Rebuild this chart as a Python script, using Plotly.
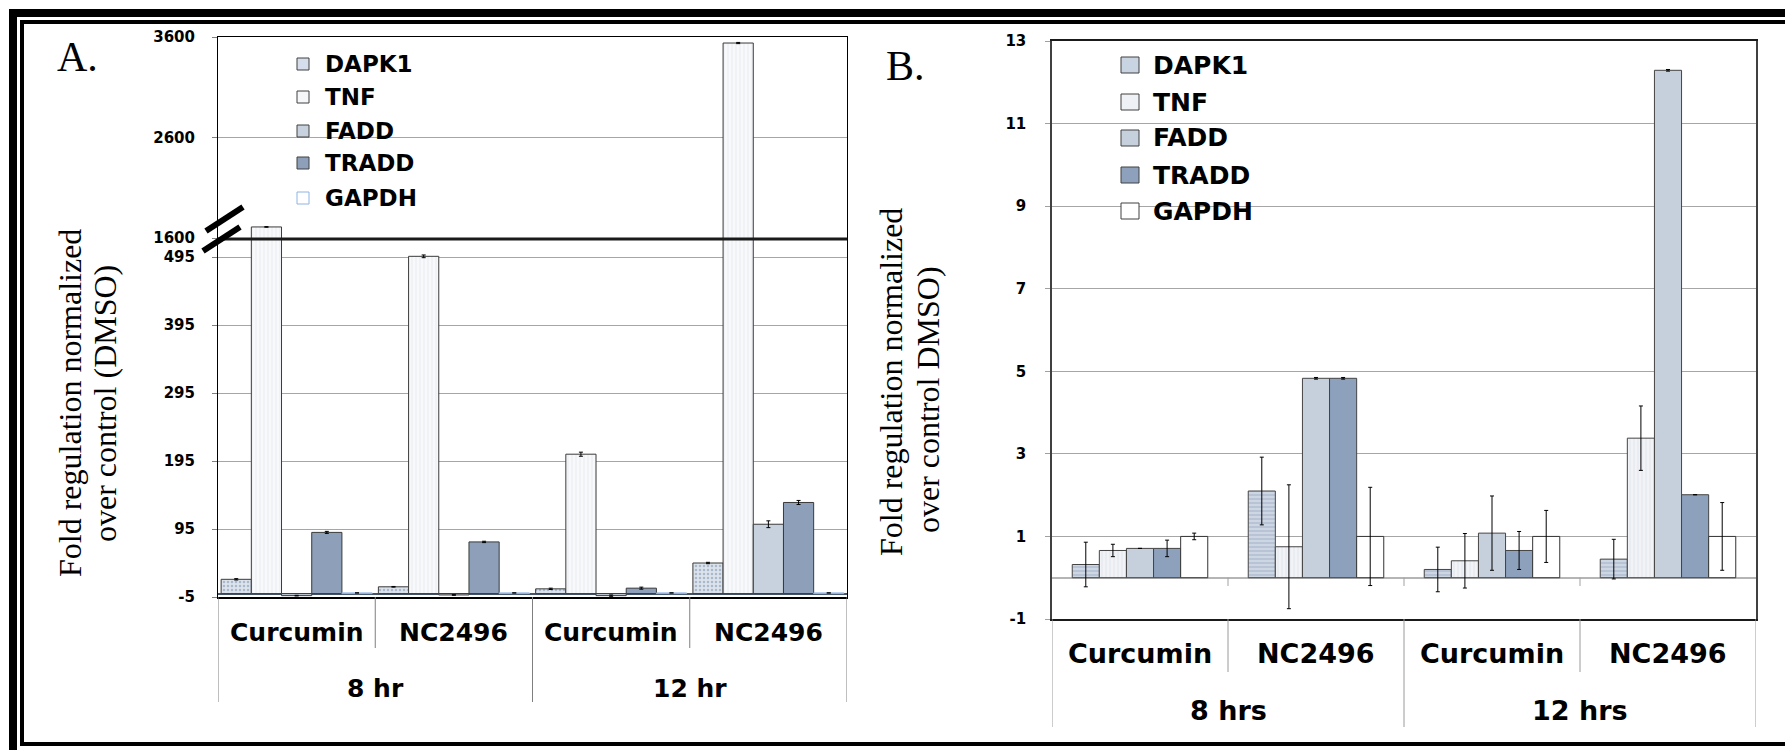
import plotly.graph_objects as go

W, H = 1785, 750


def px(x):
    return x / W


def py(y):
    return 1 - y / H


# ---------------- data ----------------
genes = ["DAPK1", "TNF", "FADD", "TRADD", "GAPDH"]
treatments = ["Curcumin", "NC2496", "Curcumin", "NC2496"]
times_a = ["8 hr", "12 hr"]
times_b = ["8 hrs", "12 hrs"]
xpos = [0, 1, 2, 3]

# Panel A (broken axis)
a_dapk1 = [21, 10, 7, 45]
a_tnf = [1710, 496, 205, 3540]
a_fadd = [-3, -2, -3, 102]
a_tradd = [90, 76, 8, 134]
a_gapdh = [1, 1, 1, 1]
a_dapk1_err = [1, 0.5, 1, 1]
a_tnf_err = [3, 2, 3, 6]
a_fadd_err = [0.5, 0.5, 1, 5]
a_tradd_err = [1.5, 1, 1.5, 3]
a_gapdh_err = [0, 0, 0, 0]
a_low_ticks = [-5, 95, 195, 295, 395, 495]
a_low_ticktext = ["-5", "95", "195", "295", "395", "495"]
a_up_ticks = [1600, 2600, 3600]

# Panel B
b_dapk1 = [0.32, 2.1, 0.2, 0.45]
b_tnf = [0.66, 0.75, 0.41, 3.38]
b_fadd = [0.71, 4.83, 1.08, 12.29]
b_tradd = [0.71, 4.83, 0.66, 2.01]
b_gapdh = [1, 1, 1, 1]
b_dapk1_err = [0.54, 0.82, 0.54, 0.48]
b_tnf_err = [0.15, 1.5, 0.66, 0.78]
b_fadd_err = [0, 0.02, 0.9, 0.02]
b_tradd_err = [0.2, 0.02, 0.46, 0]
b_gapdh_err = [0.08, 1.19, 0.63, 0.82]
b_ticks = [-1, 1, 3, 5, 7, 9, 11, 13]
b_ticktext = ["-1", "1", "3", "5", "7", "9", "11", "13"]

a_vals = [a_dapk1, a_tnf, a_fadd, a_tradd, a_gapdh]
a_errs = [a_dapk1_err, a_tnf_err, a_fadd_err, a_tradd_err, a_gapdh_err]
b_vals = [b_dapk1, b_tnf, b_fadd, b_tradd, b_gapdh]
b_errs = [b_dapk1_err, b_tnf_err, b_fadd_err, b_tradd_err, b_gapdh_err]

# ---------------- styles ----------------
fill_a = ["#d5deea", "#f6f7f9", "#c8d2de", "#8d9fb9", "#ffffff"]
edge_a = ["#3a3a3a", "#3a3a3a", "#3a3a3a", "#3a3a3a", "#8eb4e3"]
pat_a = [
    dict(shape=".", fgcolor="#a9b8cc", bgcolor="#dce3ec", size=4, solidity=0.3),
    dict(shape="|", fgcolor="#e6e9ee", bgcolor="#f8f9fb", size=4, solidity=0.2),
    None, None, None,
]
fill_b = ["#c9d4e2", "#eef1f5", "#c6d0dc", "#8da1bd", "#ffffff"]
edge_b = ["#444444", "#444444", "#444444", "#444444", "#333333"]
pat_b = [
    dict(shape="-", fgcolor="#aab8cc", bgcolor="#cdd7e4", size=4, solidity=0.3),
    dict(shape="|", fgcolor="#e1e5eb", bgcolor="#f1f3f6", size=4, solidity=0.25),
    None, None, None,
]

fig = go.Figure()

# Panel A: bars in lower (x/y) and upper (x2/y2) parts
wa = 0.96 / 5
for i, g in enumerate(genes):
    mk = dict(color=fill_a[i], line=dict(color=edge_a[i], width=1))
    if pat_a[i]:
        mk["pattern"] = dict(fillmode="replace", **pat_a[i])
    for xa, ya in (("x", "y"), ("x2", "y2")):
        fig.add_trace(go.Bar(
            x=xpos, y=a_vals[i], name=g, xaxis=xa, yaxis=ya,
            width=wa, offset=-0.48 + i * wa, marker=mk, showlegend=False,
            error_y=dict(type="data", array=a_errs[i], color="black", thickness=1, width=2),
        ))

# Panel B
wb = 0.77 / 5
for i, g in enumerate(genes):
    mk = dict(color=fill_b[i], line=dict(color=edge_b[i], width=1))
    if pat_b[i]:
        mk["pattern"] = dict(fillmode="replace", **pat_b[i])
    fig.add_trace(go.Bar(
        x=xpos, y=b_vals[i], name=g, xaxis="x3", yaxis="y3",
        width=wb, offset=-0.385 + i * wb, marker=mk, showlegend=False,
        error_y=dict(type="data", array=b_errs[i], color="black", thickness=1, width=2),
    ))

tickfont = dict(family="DejaVu Sans", size=15, color="black", weight="bold")
grid = "#a6a6a6"

fig.update_layout(
    width=W, height=H, margin=dict(l=0, r=0, t=0, b=0, pad=0, autoexpand=False),
    paper_bgcolor="white", plot_bgcolor="white",
    barmode="overlay", showlegend=False,
    xaxis=dict(domain=[px(218), px(847)], range=[-0.5, 3.5], anchor="y",
               showticklabels=False, showgrid=False, zeroline=False, ticks="",
               showline=True, linecolor="black", linewidth=2, mirror=True),
    yaxis=dict(domain=[py(597), py(240)], range=[-5, 520], anchor="x",
               tickvals=a_low_ticks, ticktext=a_low_ticktext, tickfont=tickfont,
               ticks="outside", ticklen=5, tickcolor="#808080", ticklabelstandoff=14,
               showgrid=True, gridcolor=grid, gridwidth=1,
               zeroline=True, zerolinecolor="#44546a", zerolinewidth=2,
               showline=True, linecolor="black", linewidth=1, mirror=True),
    xaxis2=dict(domain=[px(218), px(847)], range=[-0.5, 3.5], anchor="y2",
                showticklabels=False, showgrid=False, zeroline=False, ticks="",
                showline=True, linecolor="black", linewidth=1, mirror=True),
    yaxis2=dict(domain=[py(238), py(37)], range=[1600, 3600], anchor="x2",
                tickvals=a_up_ticks, tickfont=tickfont,
                ticks="outside", ticklen=5, tickcolor="#808080", ticklabelstandoff=14,
                showgrid=True, gridcolor=grid, gridwidth=1, zeroline=False,
                showline=True, linecolor="black", linewidth=1, mirror=True),
    xaxis3=dict(domain=[px(1052), px(1756)], range=[-0.5, 3.5], anchor="y3",
                showticklabels=False, showgrid=False, zeroline=False, ticks="",
                showline=True, linecolor="#1a1a1a", linewidth=2, mirror=True),
    yaxis3=dict(domain=[py(619), py(41)], range=[-1, 13], anchor="x3",
                tickvals=b_ticks, ticktext=b_ticktext, tickfont=tickfont,
                ticks="outside", ticklen=5, tickcolor="#a0a0a0", ticklabelstandoff=16,
                showgrid=True, gridcolor=grid, gridwidth=1,
                zeroline=True, zerolinecolor="#b5b5b5", zerolinewidth=1.5,
                showline=True, linecolor="#404040", linewidth=1.5, mirror=True),
)

shapes = []


def pline(x0, y0, x1, y1, w, c="black"):
    shapes.append(dict(type="line", xref="paper", yref="paper",
                       x0=px(x0), y0=py(y0), x1=px(x1), y1=py(y1),
                       line=dict(color=c, width=w)))


# outer frame
pline(9, 13, 1785, 13, 8)
pline(20, 22, 1785, 22, 4)
pline(13, 9, 13, 750, 8)
pline(22, 20, 22, 746, 4)
pline(20, 744, 1785, 744, 4)

# panel A break
pline(218, 239, 847, 239, 3, "#1a1a1a")
pline(206, 231, 243, 207, 6)
pline(203, 251, 240, 227, 6)

# dividers under the category axes
for xb, yend in ((-0.5, 702), (0.5, 648), (1.5, 702), (2.5, 648), (3.5, 702)):
    shapes.append(dict(type="line", xref="x", yref="paper", x0=xb, x1=xb,
                       y0=py(597), y1=py(yend), line=dict(color="#7f7f7f", width=1)))
for xb, yend in ((-0.5, 727), (0.5, 672), (1.5, 727), (2.5, 672), (3.5, 727)):
    shapes.append(dict(type="line", xref="x3", yref="paper", x0=xb, x1=xb,
                       y0=py(619), y1=py(yend), line=dict(color="#9a9a9a", width=1)))
# small tick marks at zero line in panel B
for xb in (0.5, 1.5, 2.5):
    shapes.append(dict(type="line", xref="x3", yref="y3", x0=xb, x1=xb,
                       y0=0, y1=-0.2, line=dict(color="#a0a0a0", width=1)))

annotations = []

# legends (manual)
leg_a_y = [64, 97, 131, 163, 198]
for i, g in enumerate(genes):
    yc = leg_a_y[i]
    shapes.append(dict(type="rect", xref="paper", yref="paper",
                       x0=px(297), x1=px(309), y0=py(yc - 6), y1=py(yc + 6),
                       fillcolor=fill_a[i], line=dict(color=edge_a[i] if i == 4 else "#404040", width=1)))
    annotations.append(dict(text=g, xref="paper", yref="paper", x=px(323), y=py(yc),
                            xanchor="left", yanchor="middle", showarrow=False,
                            font=dict(family="DejaVu Sans", size=23, color="black", weight="bold")))
leg_b_y = [65, 102, 138, 175, 211]
for i, g in enumerate(genes):
    yc = leg_b_y[i]
    shapes.append(dict(type="rect", xref="paper", yref="paper",
                       x0=px(1121), x1=px(1139), y0=py(yc - 8), y1=py(yc + 8),
                       fillcolor=fill_b[i], line=dict(color="#404040", width=1)))
    annotations.append(dict(text=g, xref="paper", yref="paper", x=px(1151), y=py(yc),
                            xanchor="left", yanchor="middle", showarrow=False,
                            font=dict(family="DejaVu Sans", size=25, color="black", weight="bold")))

labfont_a = dict(family="DejaVu Sans", size=25, color="black", weight="bold")
labfont_b = dict(family="DejaVu Sans", size=27, color="black", weight="bold")
for i, t in enumerate(treatments):
    annotations.append(dict(text=t, xref="x", yref="paper", x=xpos[i], y=py(632),
                            showarrow=False, xanchor="center", yanchor="middle", font=labfont_a))
    annotations.append(dict(text=t, xref="x3", yref="paper", x=xpos[i], y=py(653),
                            showarrow=False, xanchor="center", yanchor="middle", font=labfont_b))
for j in range(2):
    annotations.append(dict(text=times_a[j], xref="x", yref="paper", x=0.5 + 2 * j, y=py(688),
                            showarrow=False, xanchor="center", yanchor="middle", font=labfont_a))
    annotations.append(dict(text=times_b[j], xref="x3", yref="paper", x=0.5 + 2 * j, y=py(710),
                            showarrow=False, xanchor="center", yanchor="middle", font=labfont_b))

serif = dict(family="Liberation Serif", size=32, color="black")
for txt, x, y in (("Fold regulation normalized", 70, 403), ("over control (DMSO)", 105, 404),
                  ("Fold regulation normalized", 891, 382), ("over control DMSO)", 928, 400)):
    annotations.append(dict(text=txt, xref="paper", yref="paper", x=px(x), y=py(y),
                            textangle=-90, showarrow=False, xanchor="center", yanchor="middle",
                            font=serif))

annotations.append(dict(text="A.", xref="paper", yref="paper", x=px(77), y=py(57),
                        showarrow=False, xanchor="center", yanchor="middle",
                        font=dict(family="Liberation Serif", size=42, color="black")))
annotations.append(dict(text="B.", xref="paper", yref="paper", x=px(905), y=py(66),
                        showarrow=False, xanchor="center", yanchor="middle",
                        font=dict(family="Liberation Serif", size=42, color="black")))

fig.update_layout(shapes=shapes, annotations=annotations)
fig.write_html("out.html")
